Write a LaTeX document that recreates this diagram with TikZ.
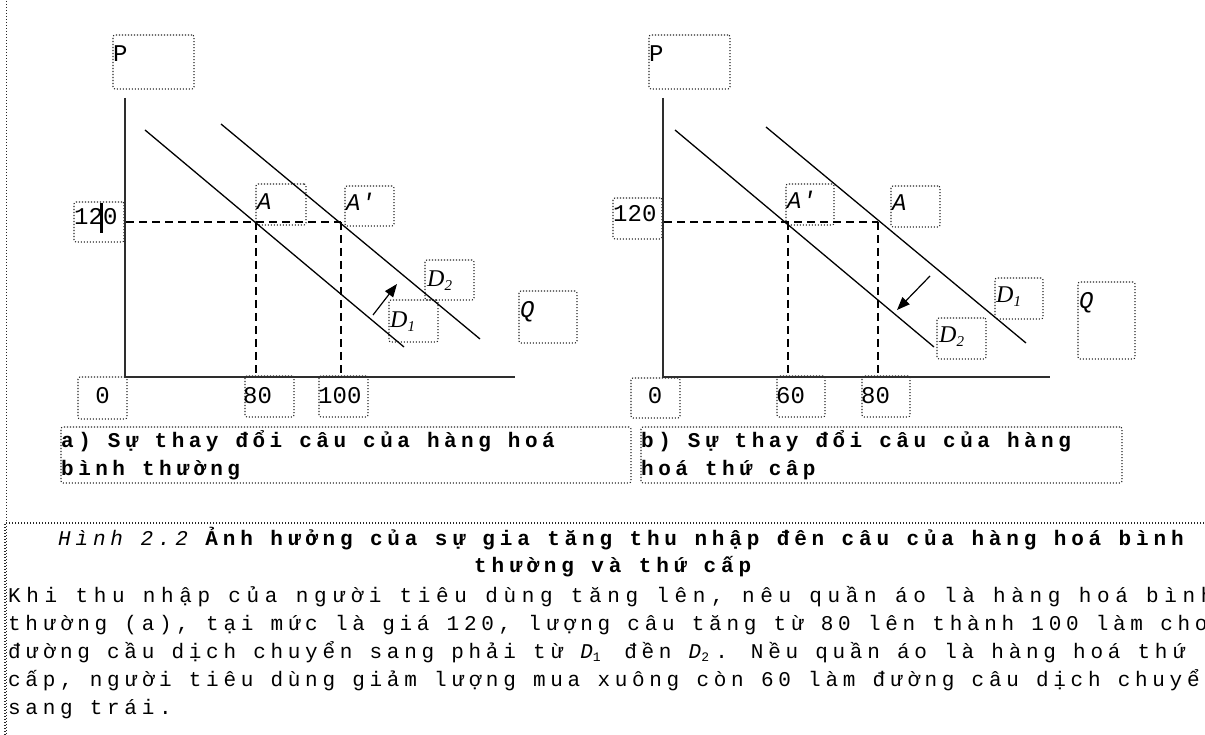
\documentclass[tikz,border=0pt]{standalone}
\usepackage{fontspec}
\usetikzlibrary{arrows.meta,fit}
\setmainfont{Liberation Serif}
\newfontfamily\bodyfont[LetterSpace=22.3]{Liberation Mono}
\newfontfamily\bodyfontA[LetterSpace=26.9]{Liberation Mono}
\newfontfamily\headfont[LetterSpace=23.0]{Liberation Mono}
\newfontfamily\capfont[LetterSpace=21.3]{Liberation Mono}
\newfontfamily\labfont{Liberation Mono}
\newfontfamily\dfont{Liberation Serif}
\newcommand\Dlab[1]{{\dfont\itshape D\raisebox{-4pt}{\fontsize{15pt}{15pt}\selectfont #1}}}
\newcommand\Dtxt[1]{{\itshape D}\makebox[14pt][l]{\raisebox{-3pt}{\fontsize{13pt}{13pt}\selectfont #1}}}
\tikzset{
  dotbox/.style={draw=black!85, line width=1.1pt, dash pattern=on 1.1pt off 1.9pt, rounded corners=2pt, inner sep=0pt, outer sep=0pt},
  axisline/.style={line width=2.2pt, draw=black!82},
  demand/.style={line width=1.3pt, draw=black},
  guide/.style={line width=1.5pt, dash pattern=on 8pt off 5pt},
  shiftarrow/.style={line width=1.2pt, -{Triangle[length=13pt,width=10pt]}},
  lab/.style={inner sep=0pt, anchor=base west, font=\labfont\fontsize{24pt}{24pt}\selectfont},
  dlab/.style={inner sep=0pt, anchor=base west, font=\fontsize{24pt}{24pt}\selectfont},
  body/.style={inner sep=0pt, anchor=base west, font=\bodyfont\fontsize{21pt}{28pt}\selectfont},
  bodyA/.style={inner sep=0pt, anchor=base west, font=\bodyfontA\fontsize{21pt}{28pt}\selectfont},
  head/.style={inner sep=0pt, anchor=base west, font=\headfont\fontsize{21pt}{28pt}\selectfont},
  capt/.style={inner sep=0pt, anchor=base west, font=\capfont\bfseries\fontsize{21pt}{28pt}\selectfont},
}
\begin{document}
\begin{tikzpicture}[x=1pt,y=-1pt]
\useasboundingbox (0,0) rectangle (1205,735);
\clip (0,0) rectangle (1205,735);
\fill[white] (0,0) rectangle (1205,735);

% outer left border and caption frame
\coordinate (bt) at (6.5,-5);
\coordinate (bb) at (6.5,745);
\draw[dotbox, rounded corners=0pt] (bt) -- (bb);
\node[dotbox, rounded corners=0pt, fit={(5,523) (1215,745)}] (capframe) {};

% ---------------- left panel ----------------
\node[dotbox, fit={(113,35) (194,89)}] (LPbox) {};
\node[lab] (LP) at (113,62) {P};
\node[dotbox, fit={(74,202) (124,242)}] (L120box) {};
\node[lab] (L120) at (74,225) {120};
\node[dotbox, fit={(256,184) (306,225)}] (LAbox) {};
\node[lab] (LAt) at (257,210) {\itshape A};
\node[dotbox, fit={(345,186) (394,226)}] (LApbox) {};
\node[lab] (LApt) at (346,211) {\itshape A'};
\node[dotbox, fit={(425,260) (474,300)}] (LD2box) {};
\node[dlab] (LD2t) at (427,287) {\Dlab{2}};
\node[dotbox, fit={(389,300) (438,342)}] (LD1box) {};
\node[dlab] (LD1t) at (390,327) {\Dlab{1}};
\node[dotbox, fit={(519,291) (577,343)}] (LQbox) {};
\node[lab] (LQ) at (520,318) {\itshape Q};
\node[dotbox, fit={(78,377) (127,419)}] (L0box) {};
\node[lab, anchor=base] (L0) at (102.5,403) {0};
\node[dotbox, fit={(245,376) (294,417)}] (L80box) {};
\node[lab] (L80t) at (243,403) {80};
\node[dotbox, fit={(319,376) (368,417)}] (L100box) {};
\node[lab] (L100t) at (318,403) {100};

\coordinate (LO) at (125,377);
\coordinate (LT) at (125,98);
\coordinate (LR) at (515,377);
\draw[axisline] (LT) -- (LO) -- (LR);
\coordinate (LD1a) at (145,130); \coordinate (LD1b) at (404,347);
\coordinate (LD2a) at (221,124); \coordinate (LD2b) at (480,339);
\draw[demand] (LD1a) -- (LD1b);
\draw[demand] (LD2a) -- (LD2b);
\coordinate (LP120) at (126,222);
\coordinate (LA) at (256,222); \coordinate (LAp) at (341,222);
\coordinate (L80) at (256,376); \coordinate (L100) at (341,376);
\draw[guide] (LP120) -- (LAp);
\draw[guide] (LA) -- (L80);
\draw[guide] (LAp) -- (L100);
\coordinate (Las) at (373,315); \coordinate (Lat) at (397,284);
\draw[shiftarrow] (Las) -- (Lat);
\coordinate (Lbar1) at (101.5,203); \coordinate (Lbar2) at (101.5,233);
\draw[line width=2.6pt] (Lbar1) -- (Lbar2);

% ---------------- right panel ----------------
\node[dotbox, fit={(649,35) (730,89)}] (RPbox) {};
\node[lab] (RP) at (649,62) {P};
\node[dotbox, fit={(613,198) (662,239)}] (R120box) {};
\node[lab] (R120) at (613,222) {120};
\node[dotbox, fit={(786,184) (834,225)}] (RApbox) {};
\node[lab] (RApt) at (787,209) {\itshape A'};
\node[dotbox, fit={(891,186) (940,227)}] (RAbox) {};
\node[lab] (RAt) at (892,211) {\itshape A};
\node[dotbox, fit={(995,278) (1043,319)}] (RD1box) {};
\node[dlab] (RD1t) at (996,303) {\Dlab{1}};
\node[dotbox, fit={(937,318) (986,359)}] (RD2box) {};
\node[dlab] (RD2t) at (939,343) {\Dlab{2}};
\node[dotbox, fit={(1078,282) (1135,359)}] (RQbox) {};
\node[lab] (RQ) at (1079,309) {\itshape Q};
\node[dotbox, fit={(631,378) (680,418)}] (R0box) {};
\node[lab, anchor=base] (R0) at (655,403) {0};
\node[dotbox, fit={(777,376) (825,417)}] (R60box) {};
\node[lab] (R60t) at (776,403) {60};
\node[dotbox, fit={(862,376) (910,417)}] (R80box) {};
\node[lab] (R80t) at (861,403) {80};

\coordinate (RO) at (663,377);
\coordinate (RT) at (663,98);
\coordinate (RR) at (1050,377);
\draw[axisline] (RT) -- (RO) -- (RR);
\coordinate (RD2a) at (675,130); \coordinate (RD2b) at (934,347);
\coordinate (RD1a) at (766,127); \coordinate (RD1b) at (1026,343);
\draw[demand] (RD2a) -- (RD2b);
\draw[demand] (RD1a) -- (RD1b);
\coordinate (RP120) at (664,222);
\coordinate (RAp) at (788,222); \coordinate (RA) at (878,222);
\coordinate (R60) at (788,376); \coordinate (R80) at (878,376);
\draw[guide] (RP120) -- (RA);
\draw[guide] (RAp) -- (R60);
\draw[guide] (RA) -- (R80);
\coordinate (Ras) at (930,276); \coordinate (Rat) at (897,310);
\draw[shiftarrow] (Ras) -- (Rat);

% ---------------- sub-captions ----------------
\node[dotbox, fit={(61,427) (631,483)}] (capA) {};
\node[capt] (capA1) at (61,447) {a) Sự thay đổi câu của hàng hoá};
\node[capt] (capA2) at (61,475) {bình thường};
\node[dotbox, fit={(641,427) (1122,483)}] (capB) {};
\node[capt] (capB1) at (641,447) {b) Sự thay đổi câu của hàng};
\node[capt] (capB2) at (641,475) {hoá thứ câp};

% ---------------- figure caption ----------------
\node[head] (h1) at (58,545) {{\itshape Hình 2.2} {\bfseries Ảnh hưởng của sự gia tăng thu nhập đên câu của hàng hoá bình}};
\node[head] (h2) at (474,572) {\bfseries thường và thứ cấp};
\node[bodyA] (t1) at (8,602) {Khi thu nhập của người tiêu dùng tăng lên, nêu quần áo là hàng hoá bình};
\node[body] (t2) at (8,630) {thường (a), tại mức là giá 120, lượng câu tăng từ 80 lên thành 100 làm cho};
\node[body] (t3) at (8,658) {đường cầu dịch chuyển sang phải từ \Dtxt{1} đền \Dtxt{2}. Nều quần áo là hàng hoá thứ};
\node[body] (t4) at (8,686) {cấp, người tiêu dùng giảm lượng mua xuông còn 60 làm đường câu dịch chuyển};
\node[body] (t5) at (8,714) {sang trái.};
\end{tikzpicture}
\end{document}
